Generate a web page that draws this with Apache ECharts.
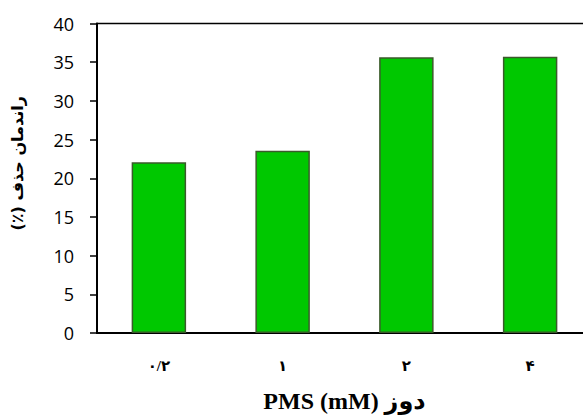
<!DOCTYPE html>
<html><head><meta charset="utf-8">
<script src="https://cdn.jsdelivr.net/npm/echarts@6/dist/echarts.min.js"></script>
<style>html,body{margin:0;padding:0;background:#fff}#c{width:583px;height:416px}</style>
</head><body><div id="c"></div>
<script>
const categories = ['۰/۲', '۱', '۲', '۴'];
const removal = [22.06, 23.56, 35.63, 35.71];
const yTicks = {min: 0, max: 40, interval: 5};
const xTitle = 'دوز PMS (mM)';
const yTitle = 'راندمان حذف (٪)';
const rtl = s => '\u202B' + s + '\u200E\u202C';

const chart = echarts.init(document.getElementById('c'), null, {renderer: 'svg'});
chart.setOption({
  animation: false,
  backgroundColor: '#fff',
  grid: {left: 97, width: 495, top: 23.5, height: 309.5, containLabel: false, outerBoundsMode: 'none',
         show: true, borderColor: '#000', borderWidth: 1.5, backgroundColor: 'transparent'},
  xAxis: {
    type: 'category', data: categories,
    axisLine: {lineStyle: {color: '#000', width: 2}},
    axisTick: {show: false},
    axisLabel: {color: '#000', fontWeight: 'bold', fontFamily: '"Times New Roman","Liberation Serif","DejaVu Sans",serif', fontSize: 15, margin: 25},
    name: rtl(xTitle), nameLocation: 'middle', nameGap: 56,
    nameTextStyle: {color: '#000', fontWeight: 'bold', fontSize: 24, fontFamily: '"Times New Roman","Liberation Serif","DejaVu Sans",serif'}
  },
  yAxis: {
    type: 'value', min: yTicks.min, max: yTicks.max, interval: yTicks.interval,
    axisLine: {show: true, lineStyle: {color: '#000', width: 2}},
    axisTick: {show: true, inside: false, length: 7, lineStyle: {color: '#000', width: 1.5}},
    splitLine: {show: false},
    axisLabel: {color: '#000', fontFamily: '"Open Sans","Noto Sans",sans-serif', fontSize: 18, margin: 23},
    name: rtl(yTitle), nameLocation: 'middle', nameGap: 72, nameRotate: 90,
    nameTextStyle: {color: '#000', fontWeight: 'bold', fontSize: 16, fontFamily: '"DejaVu Sans",sans-serif', padding: [0, 0, 0, 30]}
  },
  series: [{
    type: 'bar', data: removal, barWidth: '44%',
    itemStyle: {color: '#00c800', borderColor: '#3b5a2b', borderWidth: 1.5}
  }]
});
</script></body></html>
